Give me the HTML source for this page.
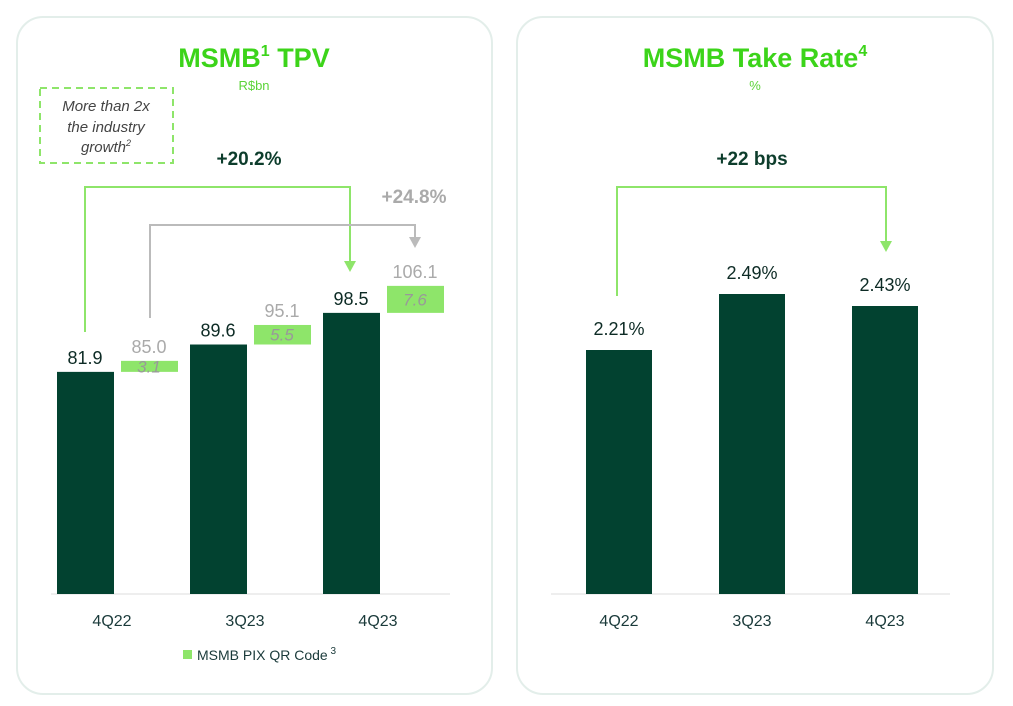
<!DOCTYPE html>
<html><head><meta charset="utf-8"><style>
body{margin:0;background:#fff;font-family:"Liberation Sans",sans-serif;}
svg text{font-family:"Liberation Sans",sans-serif;}
</style></head><body>
<svg width="1013" height="701" xmlns="http://www.w3.org/2000/svg">
<rect x="17" y="17" width="475" height="677" rx="26" fill="#fff" stroke="#e3eeea" stroke-width="2"/>
<rect x="517" y="17" width="476" height="677" rx="26" fill="#fff" stroke="#e3eeea" stroke-width="2"/>
<text x="254" y="67" text-anchor="middle" font-size="27" font-weight="bold" fill="#3cd41a">MSMB<tspan font-size="16" dy="-11">1</tspan><tspan dy="11"> TPV</tspan></text>
<text x="254" y="90" text-anchor="middle" font-size="13" fill="#5cd43a">R$bn</text>
<text x="755" y="67" text-anchor="middle" font-size="27" font-weight="bold" fill="#3cd41a">MSMB Take Rate<tspan font-size="16" dy="-11">4</tspan></text>
<text x="755" y="90" text-anchor="middle" font-size="13" fill="#5cd43a">%</text>
<rect x="40" y="88" width="133" height="75" fill="none" stroke="#8ee56a" stroke-width="2" stroke-dasharray="7,5"/>
<g font-size="15" font-style="italic" fill="#444" text-anchor="middle">
<text x="106" y="111">More than 2x</text><text x="106" y="132">the industry</text><text x="106" y="152">growth<tspan font-size="9" dy="-6">2</tspan></text></g>
<text x="249" y="165" text-anchor="middle" font-size="19" font-weight="bold" fill="#0d3d2c">+20.2%</text>
<text x="414" y="203" text-anchor="middle" font-size="19" font-weight="bold" fill="#aaa">+24.8%</text>
<polyline points="85,332 85,187 350,187 350,262" fill="none" stroke="#8ee56a" stroke-width="2"/>
<polygon points="344,261 356,261 350,272" fill="#8ee56a"/>
<polyline points="150,318 150,225 415,225 415,238" fill="none" stroke="#bbb" stroke-width="2"/>
<polygon points="409,237 421,237 415,248" fill="#bbb"/>
<line x1="51" y1="594" x2="450" y2="594" stroke="#ddd"/>
<g id="tpv"></g>
<line x1="551" y1="594" x2="950" y2="594" stroke="#ddd"/>
<text x="752" y="165" text-anchor="middle" font-size="19" font-weight="bold" fill="#0d3d2c">+22 bps</text>
<polyline points="617,296 617,187 886,187 886,242" fill="none" stroke="#8ee56a" stroke-width="2"/>
<polygon points="880,241 892,241 886,252" fill="#8ee56a"/>
<g id="tr"></g>
<rect x="183" y="650" width="9" height="9" fill="#8ee56a"/>
<text x="197" y="660" font-size="14" fill="#1a3a3a">MSMB PIX QR Code<tspan font-size="10" dy="-6"> 3</tspan></text>
</svg>
<script>
const categories=["4Q22","3Q23","4Q23"];
const tpvValues=[81.9,89.6,98.5];
const pixValues=[3.1,5.5,7.6];
const pixTotals=["85.0","95.1","106.1"];
const takeRate=[2.21,2.49,2.43];
const NS="http://www.w3.org/2000/svg";
function mk(parent,tag,attrs,text){const e=document.createElementNS(NS,tag);for(const k in attrs)e.setAttribute(k,attrs[k]);if(text!==undefined)e.textContent=text;parent.appendChild(e);return e;}
const base=594;
const yT=v=>base-3.554*(v-19.4);
const yR=v=>base-200*(v-0.99);
const g=document.getElementById('tpv');
categories.forEach((c,i)=>{
 const x=57+i*133, v=tpvValues[i], t=v+pixValues[i];
 const b=mk(g,'rect',{x:x,y:yT(v),width:57,height:base-yT(v),fill:'#024230'});
 
 
 const l=mk(g,'text',{x:x+28,y:yT(v)-8,'text-anchor':'middle','font-size':18,fill:'#0d2b25'},v.toFixed(1));
 
 
 const p=mk(g,'rect',{x:x+64,y:yT(t),width:57,height:yT(v)-yT(t),fill:'#8ee56a'});
 
 
 const pl=mk(g,'text',{x:x+92,y:(yT(t)+yT(v))/2+6,'text-anchor':'middle','font-size':17,'font-style':'italic',fill:'#999'},pixValues[i].toFixed(1));
 
 
 const tl=mk(g,'text',{x:x+92,y:yT(t)-8,'text-anchor':'middle','font-size':18,fill:'#aaa'},pixTotals[i]);
 
 
 const xl=mk(g,'text',{x:x+55,y:626,'text-anchor':'middle','font-size':16,fill:'#1a3a3a'},c);
 
 
});
const r=document.getElementById('tr');
categories.forEach((c,i)=>{
 const x=586+i*133, v=takeRate[i];
 const b=mk(r,'rect',{x:x,y:yR(v),width:66,height:base-yR(v),fill:'#024230'});
 
 
 const l=mk(r,'text',{x:x+33,y:yR(v)-15,'text-anchor':'middle','font-size':18,fill:'#0d2b25'},v.toFixed(2)+'%');
 
 
 const xl=mk(r,'text',{x:x+33,y:626,'text-anchor':'middle','font-size':16,fill:'#1a3a3a'},c);
 
 
});
</script>
</body></html>
